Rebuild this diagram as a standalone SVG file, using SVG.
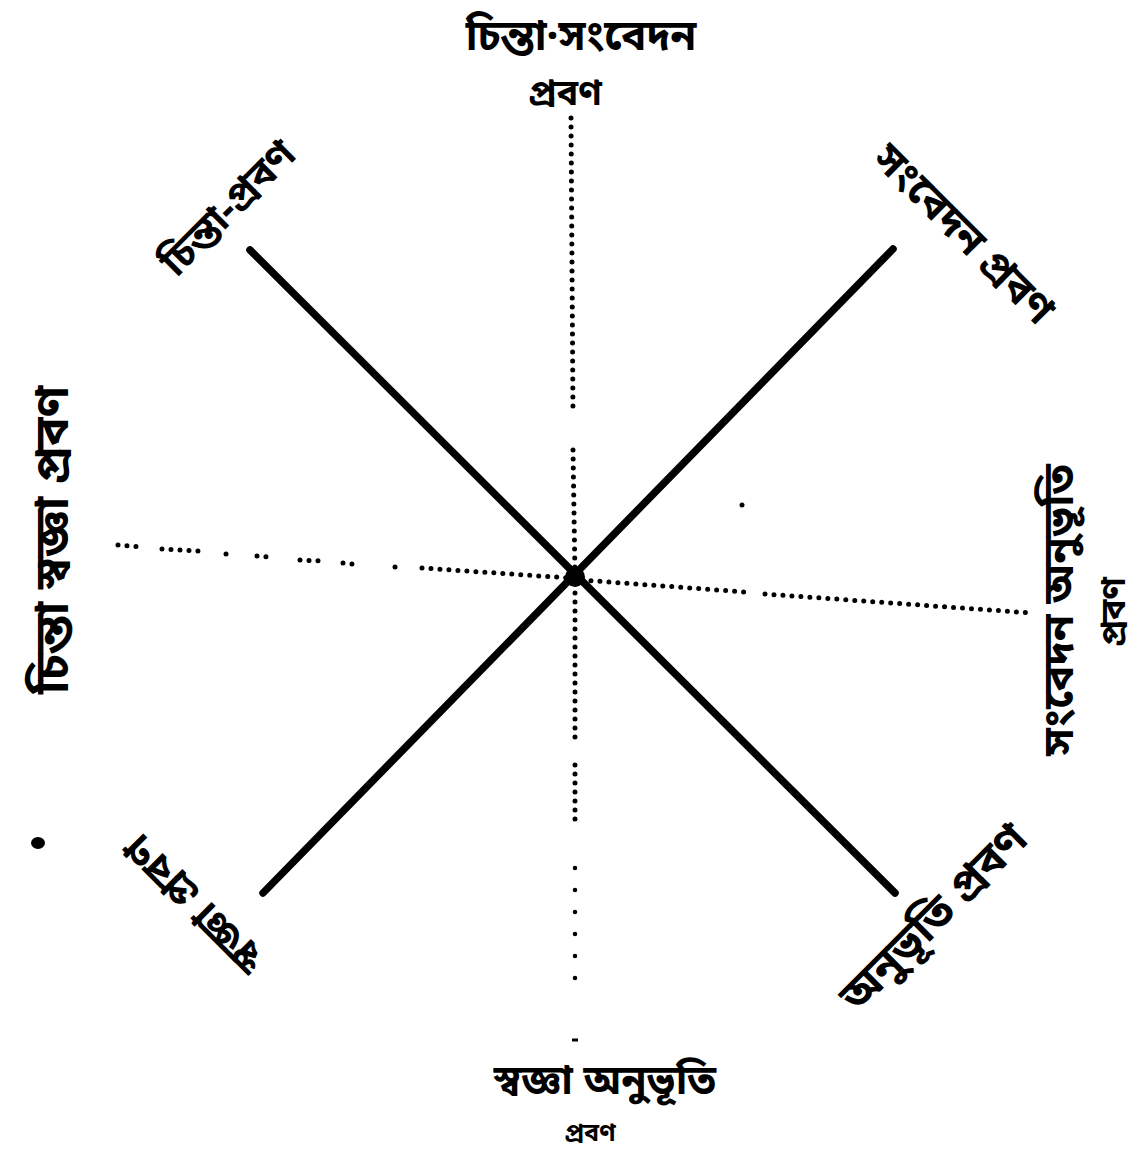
<svg xmlns="http://www.w3.org/2000/svg" width="1139" height="1156" viewBox="0 0 1139 1156">
<style>
  .lbl { font-family: "Noto Sans Bengali", "Noto Serif Bengali", "Lohit Bengali", "FreeSans", "Noto Sans", sans-serif; font-weight: bold; fill: #000; text-anchor: middle; }
  .axis { stroke: #000; stroke-width: 7.5; stroke-linecap: round; fill: none; }
  .dots { stroke: #000; stroke-width: 5; stroke-linecap: round; stroke-dasharray: 0 9; fill: none; }
  .sparse { stroke: #000; stroke-width: 4.5; stroke-linecap: round; stroke-dasharray: 0 22; fill: none; }
</style>
<rect width="1139" height="1156" fill="#fff"/>
<g id="connectors">
  <line class="axis" x1="250" y1="250" x2="895" y2="893"/>
  <line class="axis" x1="893" y1="249" x2="263" y2="893"/>
  <!-- vertical dotted axis -->
  <line class="dots" x1="571" y1="118" x2="573" y2="414"/>
  <line class="dots" x1="573" y1="450" x2="575" y2="575"/>
  <line class="dots" x1="575" y1="584" x2="575" y2="746"/>
  <line class="dots" x1="575" y1="765" x2="575" y2="828"/>
  <line class="sparse" x1="575" y1="868" x2="575" y2="990"/>
  <line x1="572" y1="1040" x2="578" y2="1040" stroke="#000" stroke-width="3"/>
  <!-- horizontal dotted axis -->
  <line class="dots" x1="118" y1="545" x2="144" y2="547"/>
  <line class="dots" x1="162" y1="549" x2="198" y2="551"/>
  <line class="dots" x1="226" y1="554" x2="226" y2="554"/>
  <line class="dots" x1="257" y1="556" x2="268" y2="557"/>
  <line class="dots" x1="300" y1="560" x2="322" y2="561"/>
  <line class="dots" x1="343" y1="563" x2="353" y2="564"/>
  <line class="dots" x1="395" y1="567" x2="395" y2="567"/>
  <line class="dots" x1="422" y1="568" x2="570" y2="578"/>
  <line class="dots" x1="582" y1="580" x2="745" y2="592"/>
  <line class="dots" x1="765" y1="594" x2="1032" y2="613"/>
</g>
<g id="center">
  <circle cx="575" cy="577" r="10" fill="#000"/>
</g>
<g id="label-top">
  <text class="lbl" x="581" y="50" font-size="42">চিন্তা·সংবেদন</text>
  <text class="lbl" x="565" y="105" font-size="36">প্রবণ</text>
</g>
<g id="label-top-left">
  <text class="lbl" font-size="40" dominant-baseline="central" transform="translate(230,210) rotate(-45)">চিন্তা-প্রবণ</text>
</g>
<g id="label-top-right">
  <text class="lbl" font-size="42" dominant-baseline="central" transform="translate(962,236) rotate(45)">সংবেদন প্রবণ</text>
</g>
<g id="label-left">
  <text class="lbl" font-size="48" dominant-baseline="central" transform="translate(56,540) rotate(-90)">চিন্তা স্বজ্ঞা প্রবণ</text>
</g>
<g id="label-right">
  <text class="lbl" font-size="43" dominant-baseline="central" transform="translate(1062,610) rotate(-90)">সংবেদন অনুভূতি</text>
  <text class="lbl" font-size="34" dominant-baseline="central" transform="translate(1116,612) rotate(-90)">প্রবণ</text>
</g>
<g id="label-bottom-left">
  <text class="lbl" font-size="42" dominant-baseline="central" transform="translate(196,902) rotate(-135)">স্বজ্ঞা প্রবণ</text>
</g>
<g id="label-bottom-right">
  <text class="lbl" font-size="44" dominant-baseline="central" transform="translate(936,920) rotate(-45)">অনুভূতি প্রবণ</text>
</g>
<g id="label-bottom">
  <text class="lbl" x="605" y="1094" font-size="41">স্বজ্ঞা অনুভূতি</text>
  <text class="lbl" x="590" y="1141" font-size="25">প্রবণ</text>
</g>
<g id="specks">
  <ellipse cx="38" cy="843" rx="7" ry="6" fill="#000"/>
  <circle cx="742" cy="505" r="2.5" fill="#000"/>
</g>
</svg>
